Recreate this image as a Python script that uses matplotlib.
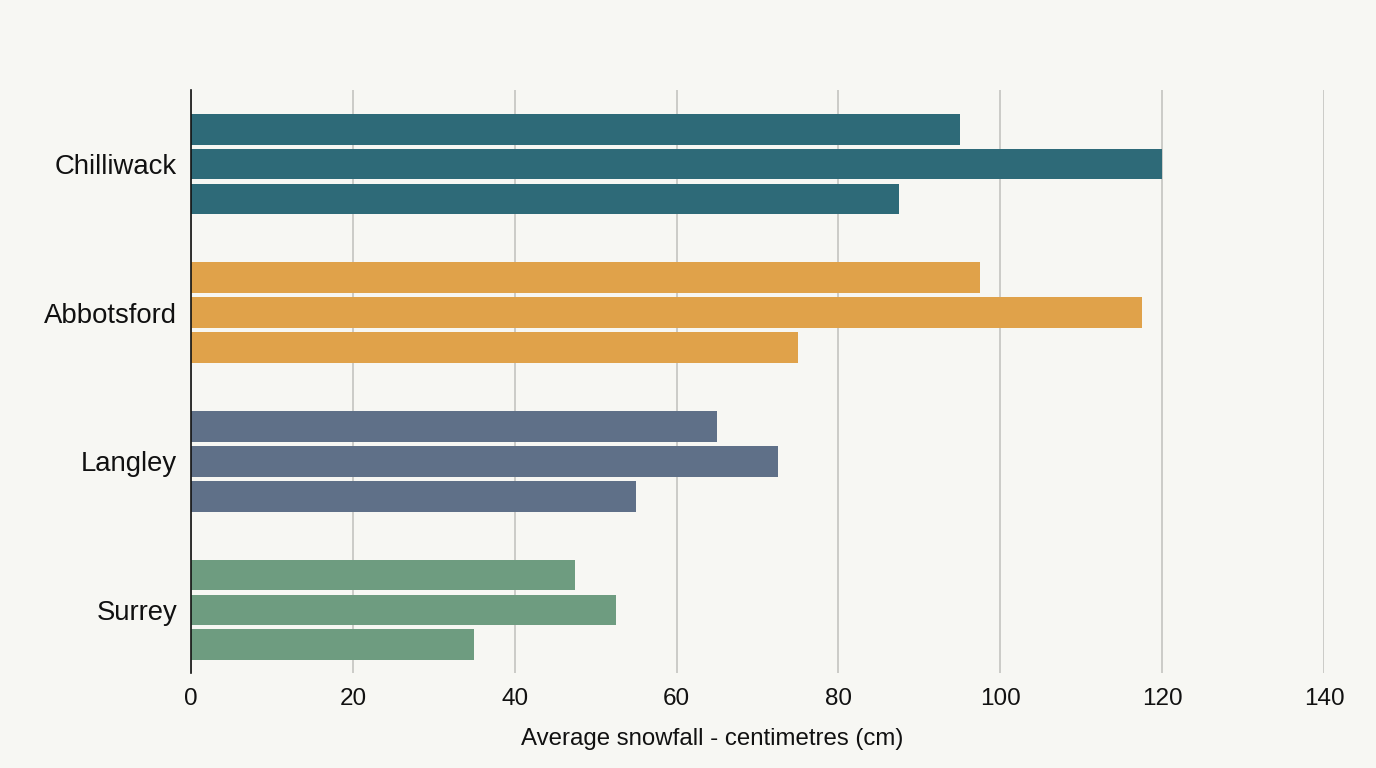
import matplotlib
matplotlib.use("Agg")
import matplotlib.pyplot as plt
import numpy as np

plt.rcParams['font.family'] = ['Liberation Sans', 'DejaVu Sans']

cities = ["Chilliwack", "Abbotsford", "Langley", "Surrey"]
bar1 = [95, 97.5, 65, 47.5]
bar2 = [120, 117.5, 72.5, 52.5]
bar3 = [87.5, 75, 55, 35]
colors = ["#2E6A78", "#E0A24A", "#5F7088", "#6E9C80"]
xticks = [0, 20, 40, 60, 80, 100, 120, 140]
xlabel = "Average snowfall - centimetres (cm)"

bg = "#F7F7F3"
fig = plt.figure(figsize=(13.76, 7.68), dpi=100, facecolor=bg)
ax = fig.add_axes([0.1388, 0.1237, 0.8234, 0.7591], facecolor=bg)

y = np.arange(len(cities))
off = 0.235
h = 0.208
for vals, d in zip([bar1, bar2, bar3], [-off, 0, off]):
    ax.barh(y + d, vals, height=h, color=colors, zorder=3)

ax.set_xlim(0, 140)
ax.set_ylim(3.424, -0.498)
ax.set_xticks(xticks)
ax.set_xticklabels([str(t) for t in xticks], fontsize=17.5, color="#111111")
ax.set_yticks(y)
ax.set_yticklabels(cities, fontsize=19.8, color="#111111")
ax.tick_params(axis='both', length=0)
ax.tick_params(axis='x', pad=11)
ax.tick_params(axis='y', pad=10)
ax.grid(axis='x', color="#C4C4C0", linewidth=1.2, zorder=0)
ax.grid(axis='y', visible=False)
for s in ['top', 'right', 'bottom']:
    ax.spines[s].set_visible(False)
ax.spines['left'].set_color("#111111")
ax.spines['left'].set_linewidth(1.2)
ax.spines['left'].set_zorder(4)
ax.set_xlabel(xlabel, fontsize=17.3, color="#111111")
ax.xaxis.set_label_coords(0.46, -0.094)

fig.savefig("out.png", dpi=100, facecolor=bg)
